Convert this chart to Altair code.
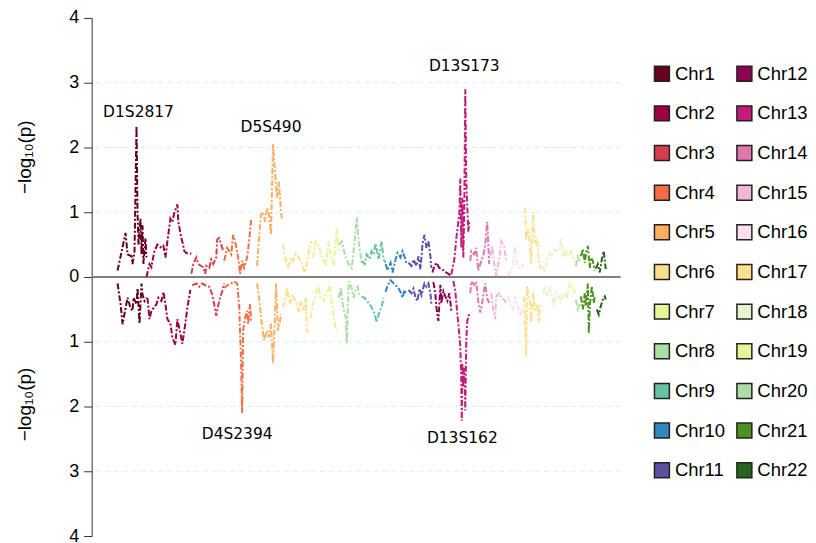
import altair as alt
import pandas as pd

CHROMS = [f"Chr{i}" for i in range(1, 23)]
COLORS = ["#67001f", "#9e0142", "#d53e4f", "#f46d43", "#fdae61", "#fee08b",
          "#e6f598", "#abdda4", "#66c2a5", "#3288bd", "#5e4fa2",
          "#8e0152", "#c51b7d", "#de77ae", "#f1b6da", "#fde0ef", "#fee08b",
          "#e6f5d0", "#e6f598", "#abdda4", "#4d9221", "#276419"]

# genome position (cumulative units) and -log10(p); UP = upper panel, DN = mirrored lower panel
C1_UP = [(118,0.10),(126,0.68),(128,0.35),(132,0.32),(133,0.20),(135,0.40),(137,2.33),(138,1.00),(139,0.50),(141,0.90),(142,0.35),(143,0.80),(144,0.20),(146,0.60),(147,0.30)]
C2_UP = [(147,0.00),(150,0.20),(152,0.15),(153,0.25),(155,0.40),(158,0.50),(162,0.45),(164,0.48),(166,0.30),(168,0.55),(171,0.90),(173,0.85),(175,1.00),(178,1.12),(179,0.85),(182,0.60),(183,0.55),(185,0.40),(187,0.37),(192,0.36)]
C3_UP = [(192,0.05),(194,0.20),(197,0.30),(199,0.20),(202,0.17),(204,0.15),(206,0.05),(207,0.17),(210,0.14),(212,0.27),(214,0.20),(217,0.30),(218,0.58),(220,0.60),(222,0.50),(224,0.40)]
C4_UP = [(225,0.25),(228,0.45),(232,0.35),(234,0.65),(237,0.48),(239,0.30),(241,0.05),(243,0.25),(245,0.14),(248,0.30),(250,0.55),(252,0.88)]
C5_UP = [(258,0.17),(260,0.60),(262,0.97),(264,1.00),(266,0.85),(268,1.07),(270,0.97),(272,0.65),(274,2.05),(276,1.63),(278,1.22),(280,1.47),(282,1.00),(283,0.90)]
C6_UP = [(284,0.50),(287,0.25),(289,0.14),(292,0.30),(294,0.25),(297,0.35),(300,0.30),(303,0.20),(306,0.07),(308,0.20),(311,0.50),(313,0.55)]
C7_UP = [(314,0.30),(317,0.55),(320,0.48),(323,0.30),(327,0.20),(330,0.55),(332,0.30),(335,0.20),(338,0.75),(340,0.40)]
C8_UP = [(340,0.50),(343,0.55),(347,0.30),(350,0.20),(353,0.14),(356,0.55),(358,0.92),(360,0.55),(363,0.20)]
C9_UP = [(363,0.25),(366,0.20),(368,0.35),(371,0.28),(373,0.40),(375,0.35),(377,0.52),(380,0.27),(383,0.55),(385,0.27),(387,0.22)]
C10_UP = [(387,0.20),(389,0.10),(392,0.22),(394,0.07),(397,0.27),(399,0.37),(402,0.30),(404,0.40),(407,0.27),(408,0.20)]
C11_UP = [(410,0.22),(413,0.17),(415,0.27),(418,0.17),(420,0.32),(422,0.12),(424,0.50),(426,0.65),(428,0.45),(430,0.55),(432,0.32),(433,0.14)]
C12_UP = [(434,0.07),(436,0.17),(438,0.22),(441,0.14),(443,0.12),(446,0.10),(448,0.07),(452,0.03)]
C13_UP = [(453,0.04),(456,0.27),(458,0.60),(461,0.97),(462,1.52),(463,0.45),(464,1.22),(465,0.30),(466,1.07),(467,2.90),(468,1.48),(470,0.70),(471,0.85)]
C14_UP = [(472,0.25),(473,0.40),(476,0.35),(478,0.45),(480,0.10),(483,0.25),(485,0.32),(487,0.50),(489,0.85),(491,0.20)]
C15_UP = [(492,0.32),(494,0.47),(496,0.20),(498,0.02),(501,0.27),(503,0.55),(506,0.47),(508,0.25)]
C16_UP = [(509,0.02),(512,0.07),(515,0.20),(517,0.50),(519,0.20),(521,0.15),(524,0.14),(525,0.20)]
C17_UP = [(527,1.07),(528,0.58),(530,0.73),(531,0.65),(533,0.20),(535,1.00),(537,0.52),(539,0.60),(541,0.20),(543,0.12)]
C18_UP = [(545,0.17),(547,0.07),(549,0.25),(552,0.37),(554,0.32),(557,0.43),(560,0.40),(562,0.43),(563,0.60),(565,0.32)]
C19_UP = [(566,0.32),(568,0.40),(570,0.35),(573,0.40),(576,0.27),(577,0.22)]
C20_UP = [(578,0.17),(580,0.32),(582,0.25)]
C21_UP = [(583,0.32),(585,0.43),(587,0.22),(588,0.35),(590,0.48),(592,0.14),(593,0.30),(595,0.25),(597,0.10)]
C22_UP = [(598,0.13),(600,0.20),(602,0.07),(604,0.27),(606,0.40),(608,0.12)]

C1_DN = [(118,0.10),(121,0.42),(123,0.73),(126,0.48),(128,0.32),(131,0.48),(133,0.52),(134,0.32),(137,0.42),(138,0.17),(140,0.72),(142,0.10),(143,0.27),(145,0.37),(147,0.32)]
C2_DN = [(148,0.32),(150,0.65),(152,0.52),(154,0.48),(157,0.42),(159,0.32),(162,0.37),(164,0.23),(166,0.42),(168,0.65),(171,0.72),(173,0.93),(176,1.05),(178,0.65),(181,0.87),(183,1.03),(186,0.72),(188,0.48),(191,0.20)]
C3_DN = [(193,0.13),(197,0.10),(200,0.15),(203,0.10),(206,0.13),(210,0.15),(213,0.27),(215,0.42),(217,0.60),(220,0.37),(223,0.22),(225,0.10)]
C4_DN = [(225,0.17),(228,0.13),(232,0.10),(235,0.07),(238,0.10),(240,0.42),(242,1.33),(243,2.10),(244,0.83),(246,0.63),(248,0.52),(249,0.72),(251,0.42),(252,0.70)]
C5_DN = [(258,0.10),(260,0.32),(262,0.63),(265,0.98),(268,0.83),(270,0.93),(272,0.72),(274,1.33),(276,0.63),(277,0.10),(279,0.83),(281,0.68),(282,0.57)]
C6_DN = [(284,0.47),(287,0.32),(288,0.17),(291,0.42),(293,0.27),(295,0.32),(298,0.42),(300,0.55),(302,0.37),(305,0.52),(307,0.32),(308,0.83),(310,0.85)]
C7_DN = [(312,0.63),(314,0.42),(317,0.28),(319,0.13),(322,0.32),(325,0.37),(327,0.27),(329,0.22),(331,0.10),(333,0.42),(336,0.72),(338,0.83)]
C8_DN = [(340,0.32),(342,0.17),(344,0.42),(347,0.63),(348,1.03),(350,0.07),(353,0.17),(355,0.32),(357,0.20),(359,0.15),(361,0.30)]
C9_DN = [(363,0.30),(366,0.32),(368,0.37),(371,0.42),(373,0.47),(376,0.57),(378,0.70),(381,0.52),(383,0.47),(385,0.32)]
C10_DN = [(387,0.23),(389,0.13),(392,0.05),(394,0.08),(397,0.13),(399,0.15),(402,0.23),(404,0.32),(406,0.20),(408,0.28)]
C11_DN = [(410,0.20),(413,0.25),(415,0.18),(417,0.32),(419,0.37),(421,0.18),(423,0.28),(426,0.10),(428,0.15),(430,0.10),(432,0.25),(433,0.42)]
C12_DN = [(435,0.08),(437,0.27),(438,0.47),(440,0.68),(442,0.12),(443,0.40),(445,0.22),(447,0.30),(449,0.37),(451,0.25),(453,0.52)]
C13_DN = [(455,0.06),(457,0.22),(459,0.57),(461,0.88),(462,1.08),(463,1.60),(463.5,2.22),(464,1.33),(465,1.70),(466,1.40),(467,2.06),(468,0.98),(469,0.68),(471,0.57)]
C14_DN = [(472,0.25),(473,0.07),(476,0.12),(478,0.07),(480,0.37),(482,0.55),(484,0.40),(486,0.18),(487,0.10),(489,0.33),(491,0.40)]
C15_DN = [(493,0.25),(495,0.50),(497,0.65),(498,0.30),(501,0.25),(503,0.32),(506,0.35),(508,0.40)]
C16_DN = [(510,0.30),(513,0.45),(515,0.50),(517,0.30),(519,0.40),(522,0.60),(524,0.50)]
C17_DN = [(526,0.30),(527,0.70),(528,1.22),(529,0.14),(532,0.40),(533,0.70),(535,0.25),(537,0.50),(539,0.45),(541,0.70),(542,0.40)]
C18_DN = [(545,0.25),(547,0.14),(549,0.30),(552,0.18),(554,0.30),(556,0.45),(558,0.25),(561,0.30),(563,0.40),(565,0.25)]
C19_DN = [(567,0.25),(569,0.30),(572,0.10),(574,0.12),(577,0.25)]
C20_DN = [(578,0.35),(580,0.50),(582,0.42)]
C21_DN = [(583,0.30),(585,0.50),(587,0.25),(588,0.45),(590,0.10),(591,0.87),(592,0.45),(594,0.14),(596,0.40),(597,0.30)]
C22_DN = [(599,0.50),(601,0.58),(603,0.45),(605,0.35),(607,0.30),(608,0.35)]

UP = [C1_UP, C2_UP, C3_UP, C4_UP, C5_UP, C6_UP, C7_UP, C8_UP, C9_UP, C10_UP, C11_UP,
      C12_UP, C13_UP, C14_UP, C15_UP, C16_UP, C17_UP, C18_UP, C19_UP, C20_UP, C21_UP, C22_UP]
DN = [C1_DN, C2_DN, C3_DN, C4_DN, C5_DN, C6_DN, C7_DN, C8_DN, C9_DN, C10_DN, C11_DN,
      C12_DN, C13_DN, C14_DN, C15_DN, C16_DN, C17_DN, C18_DN, C19_DN, C20_DN, C21_DN, C22_DN]

MARKERS = ["D1S2817", "D5S490", "D13S173", "D4S2394", "D13S162"]
MARKER_POS = [139, 272, 466, 238, 464]
MARKER_Y = [2.54, 2.31, 3.26, -2.42, -2.49]

GRID_VALUES = [-3, -2, -1, 1, 2, 3]
TICK_VALUES = [-4, -3, -2, -1, 0, 1, 2, 3, 4]
Y_TITLE = "\u2212log\u2081\u2080(p)"

rows = []
for name, up, dn in zip(CHROMS, UP, DN):
    for p, v in up:
        rows.append({"chr": name, "half": "up", "pos": p, "val": v})
    for p, v in dn:
        rows.append({"chr": name, "half": "dn", "pos": p, "val": -v})
df = pd.DataFrame(rows)

xscale = alt.Scale(domain=[92, 623], nice=False, zero=False)
yscale = alt.Scale(domain=[-4, 4], nice=False)
cscale = alt.Scale(domain=CHROMS, range=COLORS)
yaxis = alt.Axis(values=TICK_VALUES, labelExpr="abs(datum.value)", title=None, grid=False,
                 tickSize=8, labelFontSize=18, labelFont="Liberation Sans", labelColor="black",
                 labelPadding=5, domainColor="#333333", tickColor="#333333")

grid = alt.Chart(pd.DataFrame({"g": GRID_VALUES})).mark_rule(
    color="#dcefef", strokeDash=[5, 4], strokeWidth=1
).encode(y=alt.Y("g:Q", scale=yscale, axis=yaxis))

zero = alt.Chart(pd.DataFrame({"z": [0]})).mark_rule(color="#808080", strokeWidth=2).encode(
    y=alt.Y("z:Q", scale=yscale, axis=yaxis))

lines = alt.Chart(df).mark_line(strokeDash=[6, 2, 2, 2], strokeWidth=2).encode(
    x=alt.X("pos:Q", scale=xscale, axis=None),
    y=alt.Y("val:Q", scale=yscale, axis=yaxis),
    stroke=alt.Stroke("chr:N", scale=cscale, legend=None),
    detail="half:N",
)

labels = alt.Chart(pd.DataFrame({"m": MARKERS, "p": MARKER_POS, "y": MARKER_Y})).mark_text(
    font="DejaVu Sans", fontSize=15.5, color="black"
).encode(x=alt.X("p:Q", scale=xscale, axis=None), y=alt.Y("y:Q", scale=yscale, axis=yaxis), text="m:N")

titles = alt.Chart(pd.DataFrame({"t": [Y_TITLE, Y_TITLE], "y": [1.85, -1.97]})).mark_text(
    angle=270, font="Liberation Sans", fontSize=19, color="black"
).encode(x=alt.value(-67), y=alt.Y("y:Q", scale=yscale, axis=yaxis), text="t:N")

main = alt.layer(grid, zero, lines, labels, titles).properties(width=531, height=520)

# legend panel: two columns of 11 entries
leg_df = pd.DataFrame({"chrom": CHROMS,
                       "col": [i // 11 for i in range(22)],
                       "row": [i % 11 for i in range(22)]})
lx = alt.X("col:Q", scale=alt.Scale(domain=[-0.5, 1.7353], nice=False, zero=False), axis=None)
ly = alt.Y("row:Q", scale=alt.Scale(domain=[-1.407, 11.66], nice=False, zero=False, reverse=True), axis=None)
leg_sq = alt.Chart(leg_df).mark_square(size=225, stroke="#222222", strokeWidth=1.5, opacity=1).encode(
    x=lx, y=ly, fill=alt.Fill("chrom:N", scale=cscale, legend=None))
leg_tx = alt.Chart(leg_df).mark_text(align="left", baseline="middle", dx=13, fontSize=18.5,
                                     font="Liberation Sans", color="black").encode(
    x=lx, y=ly, text="chrom:N")
legend_panel = alt.layer(leg_sq, leg_tx).properties(width=185, height=520)

chart = alt.hconcat(main, legend_panel, spacing=0, bounds="flush").properties(
    padding={"left": 7, "top": 0, "right": 0, "bottom": 0},
).configure_view(stroke=None)

chart.save("out.html", embed_options={"renderer": "svg", "actions": False})
